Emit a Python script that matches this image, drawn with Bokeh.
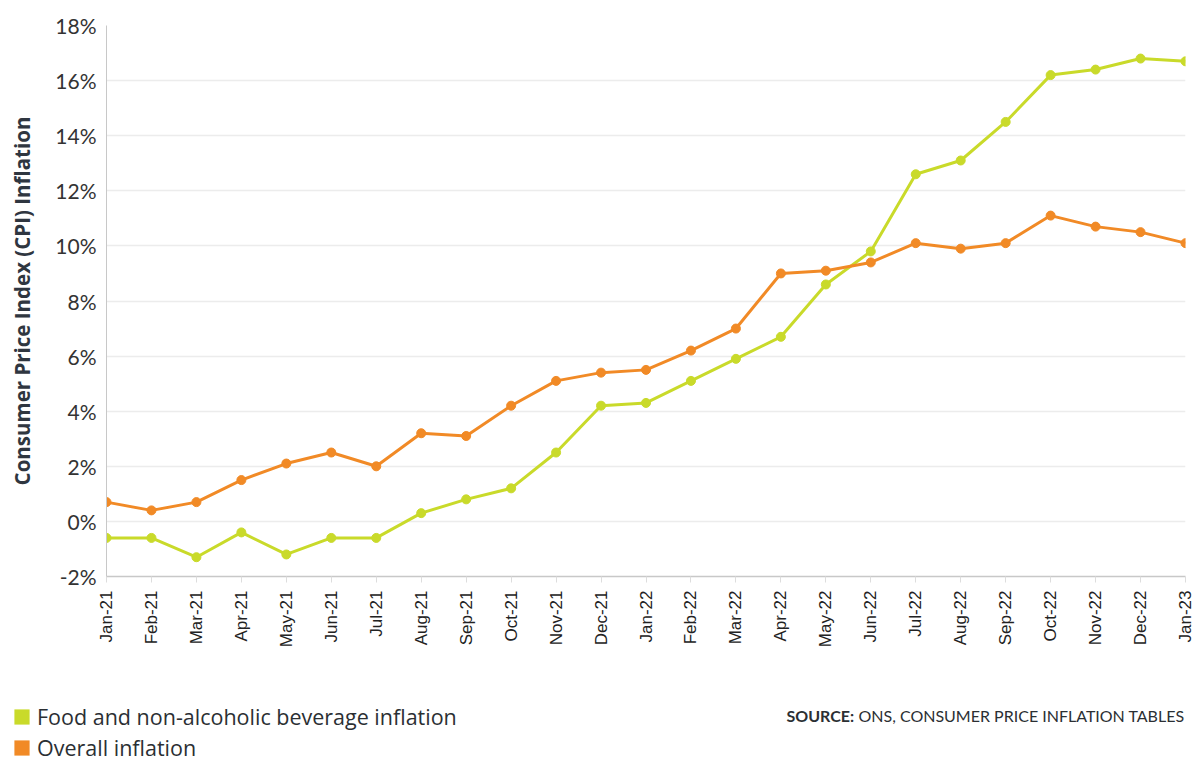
import math
from bokeh.plotting import figure
from bokeh.layouts import column
from bokeh.models import Range1d, FixedTicker, Legend, LegendItem, Label
from bokeh.embed import file_html
from bokeh.resources import INLINE

months = ["Jan-21", "Feb-21", "Mar-21", "Apr-21", "May-21", "Jun-21", "Jul-21",
          "Aug-21", "Sep-21", "Oct-21", "Nov-21", "Dec-21", "Jan-22", "Feb-22",
          "Mar-22", "Apr-22", "May-22", "Jun-22", "Jul-22", "Aug-22", "Sep-22",
          "Oct-22", "Nov-22", "Dec-22", "Jan-23"]
food = [-0.6, -0.6, -1.3, -0.4, -1.2, -0.6, -0.6, 0.3, 0.8, 1.2, 2.5, 4.2, 4.3,
        5.1, 5.9, 6.7, 8.6, 9.8, 12.6, 13.1, 14.5, 16.2, 16.4, 16.8, 16.7]
overall = [0.7, 0.4, 0.7, 1.5, 2.1, 2.5, 2.0, 3.2, 3.1, 4.2, 5.1, 5.4, 5.5,
           6.2, 7.0, 9.0, 9.1, 9.4, 10.1, 9.9, 10.1, 11.1, 10.7, 10.5, 10.1]
y_ticks = [-2, 0, 2, 4, 6, 8, 10, 12, 14, 16, 18]
y_tick_labels = ["-2%", "0%", "2%", "4%", "6%", "8%", "10%", "12%", "14%", "16%", "18%"]
series_names = ["Food and non-alcoholic beverage inflation", "Overall inflation"]
source_head = "SOURCE:"
source_body = "ONS, CONSUMER PRICE INFLATION TABLES"

GREEN = "#c9da2a"
ORANGE = "#f18a26"
TEXT = "#2b2f33"

x = list(range(len(months)))

p = figure(width=1200, height=690, output_backend="svg", toolbar_location=None,
           x_range=Range1d(0, len(months) - 1), y_range=Range1d(-2, 18),
           min_border_left=106, min_border_right=15, min_border_top=25,
           min_border_bottom=114)
p.outline_line_color = None
p.frame_align = False

# grid
p.xgrid.grid_line_color = None
p.ygrid.ticker = FixedTicker(ticks=y_ticks)
p.ygrid.grid_line_color = "#ececec"
p.ygrid.grid_line_width = 1.5

# y axis
p.yaxis.ticker = FixedTicker(ticks=y_ticks)
p.yaxis.major_label_overrides = {t: l for t, l in zip(y_ticks, y_tick_labels)}
p.yaxis.major_label_text_font = "Lato"
p.yaxis.major_label_text_font_size = "21px"
p.yaxis.major_label_text_color = "#333333"
p.yaxis.major_tick_line_color = None
p.yaxis.minor_tick_line_color = None
p.yaxis.axis_line_color = "#c8c8c8"
p.yaxis.major_label_standoff = 4
p.yaxis.axis_label = "Consumer Price Index (CPI) Inflation"
p.yaxis.axis_label_text_font = "Open Sans"
p.yaxis.axis_label_text_font_style = "bold"
p.yaxis.axis_label_text_font_size = "20.5px"
p.yaxis.axis_label_text_color = "#2f3640"
p.yaxis.axis_label_standoff = 16

# x axis
p.xaxis.ticker = FixedTicker(ticks=x)
p.xaxis.major_label_overrides = {i: m for i, m in zip(x, months)}
p.xaxis.major_label_orientation = math.pi / 2
p.xaxis.major_label_text_font = "Liberation Sans"
p.xaxis.major_label_text_font_size = "17px"
p.xaxis.major_label_text_color = "#222222"
p.xaxis.major_tick_in = 0
p.xaxis.major_tick_out = 6
p.xaxis.major_tick_line_color = "#dddddd"
p.xaxis.minor_tick_line_color = None
p.xaxis.axis_line_color = "#c8c8c8"
p.xaxis.axis_line_width = 1.5
p.xaxis.major_label_standoff = 8

# series
p.line(x, food, line_color=GREEN, line_width=3)
p.scatter(x, food, marker="circle", size=9, fill_color=GREEN, line_color=GREEN)
p.line(x, overall, line_color=ORANGE, line_width=3)
p.scatter(x, overall, marker="circle", size=9, fill_color=ORANGE, line_color=ORANGE)

# footer: legend + source
f = figure(width=1200, height=72, output_backend="svg", toolbar_location=None,
           x_range=Range1d(0, 1200), y_range=Range1d(72, 0),
           x_axis_location=None, y_axis_location=None,
           min_border=0, min_border_left=0, min_border_right=0,
           min_border_top=0, min_border_bottom=0)
f.frame_align = False
f.outline_line_color = None
f.xgrid.grid_line_color = None
f.ygrid.grid_line_color = None

nan = float("nan")
lf = f.quad(left=[nan], right=[nan], top=[nan], bottom=[nan],
            fill_color=GREEN, line_color=None)
lo = f.quad(left=[nan], right=[nan], top=[nan], bottom=[nan],
            fill_color=ORANGE, line_color=None)
legend = Legend(items=[LegendItem(label=series_names[0], renderers=[lf]),
                       LegendItem(label=series_names[1], renderers=[lo])],
                location=(12, 0), orientation="vertical",
                padding=0, margin=0, spacing=2, glyph_width=19, glyph_height=19,
                label_standoff=6, label_text_font="Open Sans", label_text_font_size="21.5px",
                label_text_color=TEXT, border_line_alpha=0, background_fill_alpha=0,
                label_height=22)
f.add_layout(legend)

f.add_layout(Label(x=786, y=25, text=source_head,
                   text_font="Lato", text_font_style="bold", text_font_size="16px",
                   text_color=TEXT, text_baseline="middle"))
f.add_layout(Label(x=858, y=25, text=source_body,
                   text_font="Lato", text_font_size="16px",
                   text_color=TEXT, text_baseline="middle"))

open("out.html", "w").write(file_html(column(p, f, spacing=0), INLINE))
